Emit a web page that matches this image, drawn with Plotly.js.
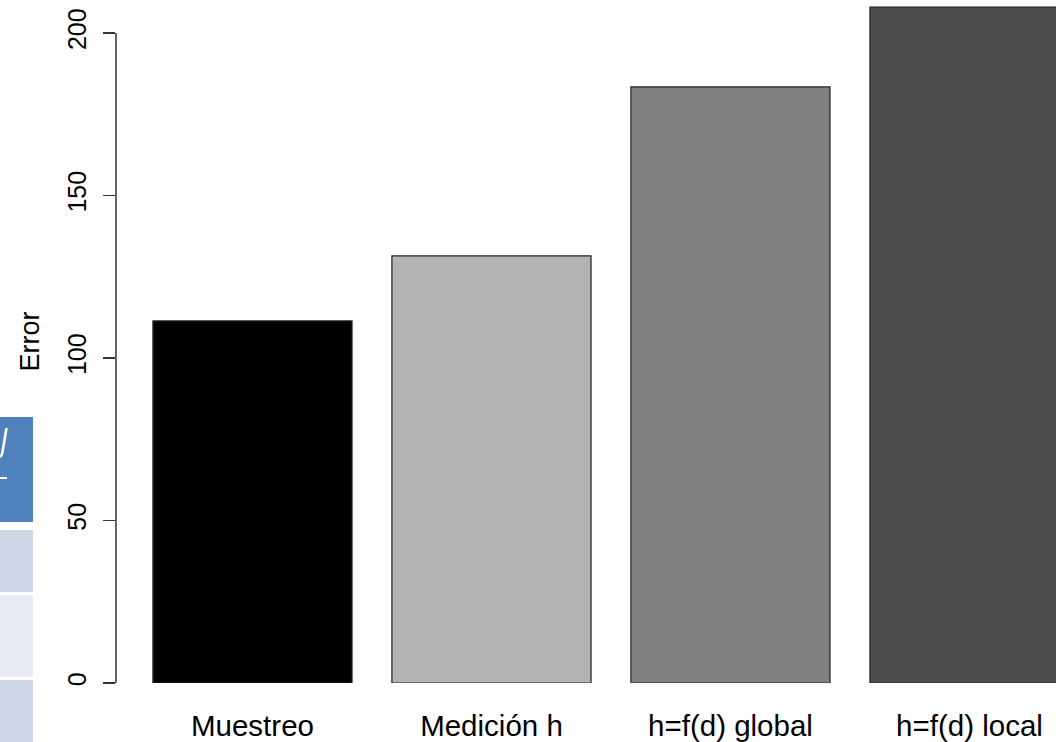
<!DOCTYPE html>
<html>
<head>
<meta charset="utf-8">
<script src="https://cdn.plot.ly/plotly-3.0.1.min.js"></script>
<style>
  html, body { margin: 0; padding: 0; background: #ffffff; }
  #chart { width: 1056px; height: 742px; }
</style>
</head>
<body>
<div id="chart"></div>
<script>
// Error by method of height estimation
const categories = ['Muestreo', 'Medición h', 'h=f(d) global', 'h=f(d) local'];
const errorValues = [111.4, 131.4, 183.4, 208.0];
const barColors = ['#000000', '#b3b3b3', '#808080', '#4d4d4d'];
const yTicks = [0, 50, 100, 150, 200];

const W = 1056, H = 742;
const M = { l: 116, r: 0, t: 0, b: 59 };
const plotW = W - M.l - M.r;
const plotH = H - M.t - M.b;
// pixel -> paper helpers for the decorative panel at the left edge
const px = x => (x - M.l) / plotW;
const py = y => (H - M.b - y) / plotH;

const trace = {
  type: 'bar',
  x: categories,
  y: errorValues,
  marker: { color: barColors, line: { color: '#222222', width: 1.2 } },
  hoverinfo: 'x+y'
};

const shapes = [
  // y axis line spanning the tick range only
  { type: 'line', xref: 'paper', yref: 'y', x0: 0, x1: 0, y0: yTicks[0], y1: yTicks[yTicks.length - 1],
    line: { color: '#333333', width: 1.5 } },
  // fragment of a table at the left edge
  { type: 'rect', xref: 'paper', yref: 'paper', x0: px(-2), x1: px(33), y0: py(417), y1: py(522),
    fillcolor: '#4f81bd', line: { width: 0 }, layer: 'below' },
  { type: 'rect', xref: 'paper', yref: 'paper', x0: px(-2), x1: px(33), y0: py(530), y1: py(592),
    fillcolor: '#cfd7e6', line: { width: 0 }, layer: 'below' },
  { type: 'rect', xref: 'paper', yref: 'paper', x0: px(-2), x1: px(33), y0: py(595), y1: py(677),
    fillcolor: '#e8ecf4', line: { width: 0 }, layer: 'below' },
  { type: 'rect', xref: 'paper', yref: 'paper', x0: px(-2), x1: px(33), y0: py(680), y1: py(745),
    fillcolor: '#cfd7e6', line: { width: 0 }, layer: 'below' },
  // stroke of a symbol in the header cell, and its underline
  { type: 'path', xref: 'paper', yref: 'paper',
    path: 'M ' + px(6.5) + ' ' + py(428) + ' L ' + px(2.5) + ' ' + py(452) +
          ' Q ' + px(1.5) + ' ' + py(458) + ' ' + px(-2) + ' ' + py(456),
    line: { color: '#ffffff', width: 2.6 } },
  { type: 'line', xref: 'paper', yref: 'paper', x0: px(-2), x1: px(7), y0: py(478), y1: py(478),
    line: { color: '#ffffff', width: 2 } }
];

const layout = {
  width: W, height: H,
  margin: M,
  paper_bgcolor: '#ffffff',
  plot_bgcolor: '#ffffff',
  showlegend: false,
  bargap: 0.167,
  font: { family: 'Liberation Sans, Arial, sans-serif', color: '#000000' },
  xaxis: {
    type: 'category',
    range: [-0.571, 3.362],
    showline: false, showgrid: false, zeroline: false,
    ticks: '', ticklabelstandoff: 22,
    tickfont: { size: 29.5, color: '#000000' }
  },
  yaxis: {
    range: [0, 210.15],
    tickvals: yTicks,
    ticktext: yTicks.map(String),
    tickangle: -90,
    ticks: 'outside', ticklen: 12, tickwidth: 1.5, tickcolor: '#333333',
    ticklabelstandoff: 7,
    showline: false, showgrid: false, zeroline: false,
    tickfont: { size: 25, color: '#000000' },
    title: { text: 'Error', font: { size: 27, color: '#000000' }, standoff: 15 }
  },
  shapes: shapes
};

Plotly.newPlot('chart', [trace], layout, { displayModeBar: false, staticPlot: true });
</script>
</body>
</html>
